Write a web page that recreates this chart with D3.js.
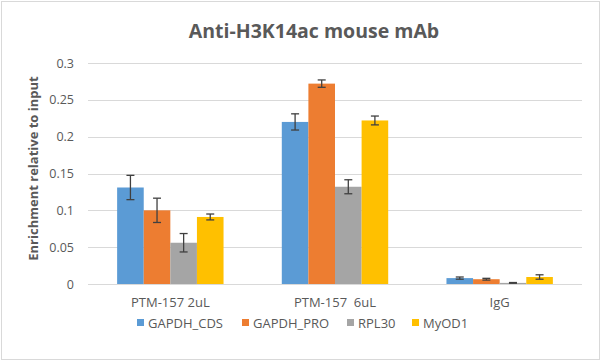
<!DOCTYPE html>
<html>
<head>
<meta charset="utf-8">
<script src="https://cdn.jsdelivr.net/npm/d3@7"></script>
<style>
  body { margin: 0; background: #fff; }
  text { font-family: "Open Sans", "Noto Sans", sans-serif; fill: #595959; }
</style>
</head>
<body>
<script>
const width = 601;
const height = 362;

const categories = ["PTM-157 2uL", "PTM-157  6uL", "IgG"];
const seriesNames = ["GAPDH_CDS", "GAPDH_PRO", "RPL30", "MyOD1"];
const colors = ["#5B9BD5", "#ED7D31", "#A5A5A5", "#FFC000"];

// values per series, one entry per category
const gapdhCds = [0.131, 0.220, 0.008];
const gapdhPro = [0.100, 0.272, 0.0065];
const rpl30 = [0.056, 0.132, 0.0015];
const myod1 = [0.091, 0.222, 0.0095];

const gapdhCdsErr = [0.0165, 0.011, 0.0015];
const gapdhProErr = [0.0165, 0.005, 0.0012];
const rpl30Err = [0.0125, 0.0095, 0.0005];
const myod1Err = [0.004, 0.006, 0.003];

const yTicks = [0, 0.05, 0.1, 0.15, 0.2, 0.25, 0.3];

const values = [gapdhCds, gapdhPro, rpl30, myod1];
const errors = [gapdhCdsErr, gapdhProErr, rpl30Err, myod1Err];

const margin = { top: 63, right: 19, bottom: 78, left: 88 };
const plotW = width - margin.left - margin.right;
const plotH = height - margin.top - margin.bottom;

const svg = d3.select("body").append("svg")
    .attr("width", width)
    .attr("height", height);

// chart frame
svg.append("rect")
    .attr("x", 1.5).attr("y", 1.5)
    .attr("width", width - 3).attr("height", height - 4)
    .style("fill", "#fff")
    .style("stroke", "#d9d9d9")
    .style("stroke-width", 1);

const g = svg.append("g").attr("transform", `translate(${margin.left},${margin.top})`);

const x0 = d3.scaleBand().domain(categories).range([0, plotW]).paddingInner(0).paddingOuter(0);
const barW = x0.bandwidth() / (4 + 2.19);
const x1 = d3.scaleBand().domain(seriesNames)
    .range([(x0.bandwidth() - 4 * barW) / 2, (x0.bandwidth() + 4 * barW) / 2]);
const y = d3.scaleLinear().domain([0, 0.3]).range([plotH, 0]);

// gridlines
g.selectAll(".grid")
    .data(yTicks)
    .enter().append("line")
    .attr("x1", 0).attr("x2", plotW)
    .attr("y1", d => Math.round(y(d)) + 0.5)
    .attr("y2", d => Math.round(y(d)) + 0.5)
    .style("stroke", "#d9d9d9")
    .style("stroke-width", 1);

// y tick labels
const yAxis = d3.axisLeft(y).tickValues(yTicks).tickSize(0).tickPadding(14)
    .tickFormat(d => d === 0 ? "0" : String(+d.toFixed(2)));
const yg = g.append("g").call(yAxis);
yg.select(".domain").remove();
yg.selectAll("text").style("font-size", "12.5px").style("fill", "#595959")
    .style("font-family", "'Open Sans', sans-serif");

// bars
const groups = g.selectAll(".cat")
    .data(categories)
    .enter().append("g")
    .attr("transform", d => `translate(${x0(d)},0)`);

groups.each(function (cat, ci) {
    const grp = d3.select(this);
    seriesNames.forEach((s, si) => {
        const v = values[si][ci];
        grp.append("rect")
            .attr("x", x1(s))
            .attr("y", y(v))
            .attr("width", x1.bandwidth())
            .attr("height", y(0) - y(v))
            .style("fill", colors[si]);
    });
    seriesNames.forEach((s, si) => {
        const v = values[si][ci];
        const e = errors[si][ci];
        const cx = x1(s) + x1.bandwidth() / 2;
        const hi = y(v + e), lo = y(v - e);
        grp.append("line")
            .attr("x1", cx).attr("x2", cx).attr("y1", hi).attr("y2", lo)
            .style("stroke", "#404040").style("stroke-width", 1.3);
        [hi, lo].forEach(yy => grp.append("line")
            .attr("x1", cx - 4).attr("x2", cx + 4).attr("y1", yy).attr("y2", yy)
            .style("stroke", "#404040").style("stroke-width", 1.3));
    });
});

// x axis baseline
g.append("line")
    .attr("x1", 0).attr("x2", plotW)
    .attr("y1", plotH + 0.5).attr("y2", plotH + 0.5)
    .style("stroke", "#d9d9d9");

// x labels
g.selectAll(".xlab")
    .data(categories)
    .enter().append("text")
    .attr("x", d => x0(d) + x0.bandwidth() / 2)
    .attr("y", plotH + 23)
    .attr("text-anchor", "middle")
    .style("font-size", "13px")
    .style("white-space", "pre")
    .attr("xml:space", "preserve")
    .text(d => d);

// title
svg.append("text")
    .attr("x", 314)
    .attr("y", 38)
    .attr("text-anchor", "middle")
    .style("font-size", "19.5px")
    .style("font-weight", "bold")
    .text("Anti-H3K14ac mouse mAb");

// y axis title
svg.append("text")
    .attr("transform", `translate(38,${margin.top + plotH / 2 - 5}) rotate(-90)`)
    .attr("text-anchor", "middle")
    .style("font-size", "13px")
    .style("font-weight", "bold")
    .text("Enrichment relative to input");

// legend
const legendX = [137, 242, 347, 412];
const legend = svg.selectAll(".leg")
    .data(seriesNames)
    .enter().append("g")
    .attr("transform", (d, i) => `translate(${legendX[i]},323)`);
legend.append("rect")
    .attr("x", 0).attr("y", -4)
    .attr("width", 7).attr("height", 7)
    .style("fill", (d, i) => colors[i]);
legend.append("text")
    .attr("x", 11).attr("y", 4.5)
    .style("font-size", "13px")
    .text(d => d);
</script>
</body>
</html>
